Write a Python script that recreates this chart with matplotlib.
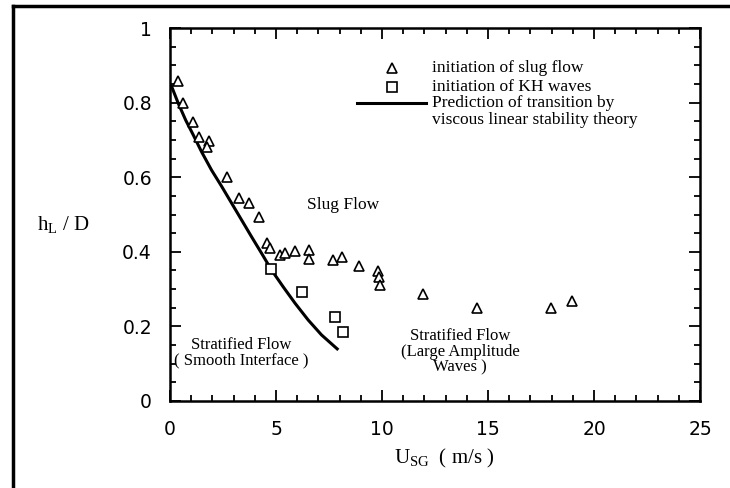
import matplotlib.pyplot as plt
from matplotlib.lines import Line2D
from matplotlib.ticker import MultipleLocator

plt.rcParams['mathtext.fontset'] = 'custom'
plt.rcParams['mathtext.rm'] = 'Liberation Serif'
plt.rcParams['mathtext.it'] = 'Liberation Serif:italic'

SERIF = 'Liberation Serif'

# initiation of slug flow (triangles)
slug_x = [0.39, 0.60, 1.07, 1.38, 1.84, 1.73, 2.70, 3.27, 3.71, 4.20, 4.59, 4.72,
          5.19, 5.42, 5.91, 6.54, 6.54, 7.69, 8.13, 8.93, 9.83, 9.84, 9.91, 11.95,
          14.48, 17.96, 18.96]
slug_y = [0.859, 0.798, 0.749, 0.709, 0.698, 0.680, 0.601, 0.543, 0.532, 0.492, 0.424, 0.409,
          0.391, 0.398, 0.403, 0.405, 0.380, 0.378, 0.387, 0.363, 0.349, 0.333, 0.311, 0.286,
          0.248, 0.250, 0.269]

# initiation of KH waves (squares)
kh_x = [4.76, 6.24, 7.78, 8.14]
kh_y = [0.354, 0.293, 0.224, 0.184]

# viscous linear stability prediction
theory_x = [0.05, 0.39, 0.74, 1.10, 1.49, 1.96, 2.44, 2.91, 3.38, 3.85, 4.32,
            4.79, 5.34, 5.90, 6.52, 7.15, 7.94]
theory_y = [0.847, 0.798, 0.753, 0.713, 0.668, 0.619, 0.575, 0.530, 0.485, 0.440, 0.396,
            0.351, 0.306, 0.262, 0.217, 0.177, 0.137]

fig = plt.figure(figsize=(7.3, 4.88), dpi=100)
ax = fig.add_axes([170 / 730, 1 - 401 / 488, 530 / 730, 373 / 488])

ax.plot(theory_x, theory_y, color='black', lw=2.2, solid_capstyle='butt')
ax.plot(slug_x, slug_y, ls='none', marker='^', ms=6.5, mfc='white', mec='black', mew=1.2)
ax.plot(kh_x, kh_y, ls='none', marker='s', ms=6.5, mfc='white', mec='black', mew=1.2)

ax.set_xlim(0, 25)
ax.set_ylim(0, 1)
ax.xaxis.set_major_locator(MultipleLocator(5))
ax.xaxis.set_minor_locator(MultipleLocator(1))
ax.yaxis.set_major_locator(MultipleLocator(0.2))
ax.yaxis.set_minor_locator(MultipleLocator(0.05))
ax.set_yticks([0, 0.2, 0.4, 0.6, 0.8, 1.0])
ax.set_yticklabels(['0', '0.2', '0.4', '0.6', '0.8', '1'])
ax.tick_params(which='both', direction='in', top=True, right=True, width=1.3,
               labelsize=13.5, colors='black')
ax.tick_params(which='major', length=8)
ax.tick_params(which='minor', length=4)
ax.tick_params(axis='x', which='major', pad=14)
ax.tick_params(axis='y', which='major', pad=13)
for s in ax.spines.values():
    s.set_linewidth(1.8)

# legend, drawn by hand so the line sits on the first text line
tr = ax.transAxes
ax.add_line(Line2D([0.419], [0.893], transform=tr, ls='none', marker='^', ms=6.5,
                   mfc='white', mec='black', mew=1.2))
ax.add_line(Line2D([0.419], [0.842], transform=tr, ls='none', marker='s', ms=6.5,
                   mfc='white', mec='black', mew=1.2))
ax.add_line(Line2D([0.353, 0.483], [0.799, 0.799], transform=tr, color='black', lw=2.2))
leg_text = ['initiation of slug flow', 'initiation of KH waves',
            'Prediction of transition by', 'viscous linear stability theory']
for t, yy in zip(leg_text, [0.893, 0.842, 0.799, 0.753]):
    ax.text(0.494, yy, t, transform=tr, ha='left', va='center', fontsize=12.5, family=SERIF)

# region labels
ax.text(8.18, 0.525, 'Slug Flow', ha='center', va='center', fontsize=12.5, family=SERIF)
ax.text(3.38, 0.129, 'Stratified Flow\n( Smooth Interface )', ha='center', va='center',
        fontsize=12, family=SERIF, linespacing=1.0)
ax.text(13.68, 0.132, 'Stratified Flow\n(Large Amplitude\nWaves )', ha='center', va='center',
        fontsize=12, family=SERIF, linespacing=0.95)

# axis labels
fig.text(444 / 730, 1 - 458 / 488, r'U$_{\rm SG}$  ( m/s )', ha='center', va='center',
         fontsize=15, family=SERIF)
fig.text(63 / 730, 1 - 224 / 488, r'h$_{\rm L}$ / D', ha='center', va='center',
         fontsize=15, family=SERIF)

# outer frame (left and top only, as in the scan)
fig.add_artist(Line2D([13 / 730, 13 / 730], [0, 1 - 6 / 488], transform=fig.transFigure,
                      color='black', lw=2.5))
fig.add_artist(Line2D([13 / 730, 1], [1 - 6 / 488, 1 - 6 / 488], transform=fig.transFigure,
                      color='black', lw=2.5))

fig.savefig('out.png', dpi=100)
